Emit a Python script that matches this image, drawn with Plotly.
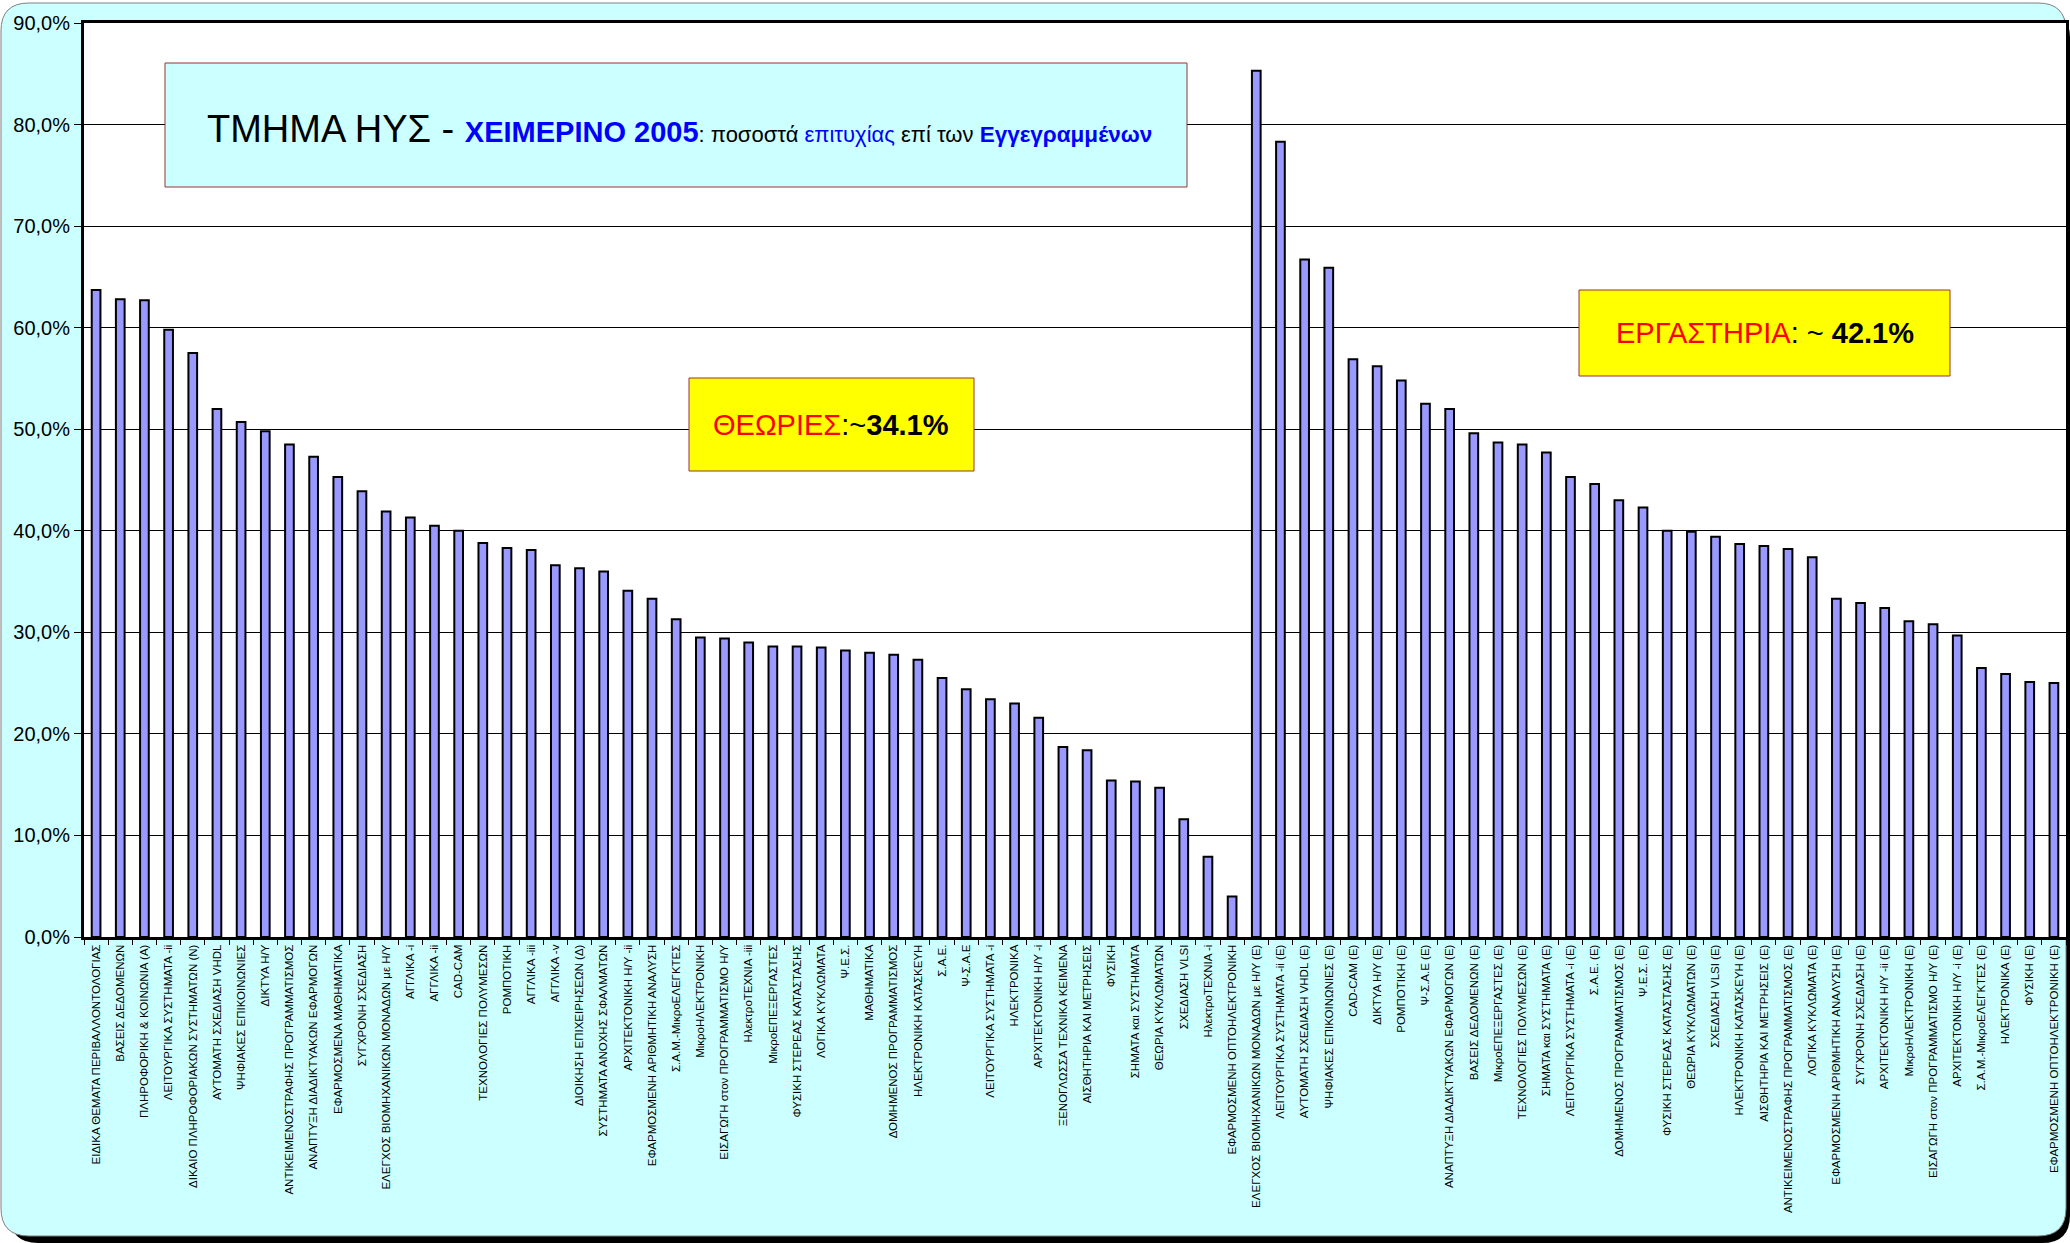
import plotly.graph_objects as go

# ---------------- data ----------------
theory_courses = [
    "ΕΙΔΙΚΑ ΘΕΜΑΤΑ ΠΕΡΙΒΑΛΛΟΝΤΟΛΟΓΙΑΣ", "ΒΑΣΕΙΣ ΔΕΔΟΜΕΝΩΝ", "ΠΛΗΡΟΦΟΡΙΚΗ & ΚΟΙΝΩΝΙΑ (Α)",
    "ΛΕΙΤΟΥΡΓΙΚΑ ΣΥΣΤΗΜΑΤΑ -ii", "ΔΙΚΑΙΟ ΠΛΗΡΟΦΟΡΙΑΚΩΝ ΣΥΣΤΗΜΑΤΩΝ (Ν)", "ΑΥΤΟΜΑΤΗ ΣΧΕΔΙΑΣΗ VHDL",
    "ΨΗΦΙΑΚΕΣ ΕΠΙΚΟΙΝΩΝΙΕΣ", "ΔΙΚΤΥΑ Η/Υ", "ΑΝΤΙΚΕΙΜΕΝΟΣΤΡΑΦΗΣ ΠΡΟΓΡΑΜΜΑΤΙΣΜΟΣ",
    "ΑΝΑΠΤΥΞΗ ΔΙΑΔΙΚΤΥΑΚΩΝ ΕΦΑΡΜΟΓΩΝ", "ΕΦΑΡΜΟΣΜΕΝΑ ΜΑΘΗΜΑΤΙΚΑ", "ΣΥΓΧΡΟΝΗ ΣΧΕΔΙΑΣΗ",
    "ΕΛΕΓΧΟΣ ΒΙΟΜΗΧΑΝΙΚΩΝ ΜΟΝΑΔΩΝ με Η/Υ", "ΑΓΓΛΙΚΑ -i", "ΑΓΓΛΙΚΑ -ii", "CAD-CAM",
    "ΤΕΧΝΟΛΟΓΙΕΣ ΠΟΛΥΜΕΣΩΝ", "ΡΟΜΠΟΤΙΚΗ", "ΑΓΓΛΙΚΑ -iii", "ΑΓΓΛΙΚΑ -v",
    "ΔΙΟΙΚΗΣΗ ΕΠΙΧΕΙΡΗΣΕΩΝ (Δ)", "ΣΥΣΤΗΜΑΤΑ ΑΝΟΧΗΣ ΣΦΑΛΜΑΤΩΝ", "ΑΡΧΙΤΕΚΤΟΝΙΚΗ Η/Υ -ii",
    "ΕΦΑΡΜΟΣΜΕΝΗ ΑΡΙΘΜΗΤΙΚΗ ΑΝΑΛΥΣΗ", "Σ.Α.Μ.-ΜικροΕΛΕΓΚΤΕΣ", "ΜικροΗΛΕΚΤΡΟΝΙΚΗ",
    "ΕΙΣΑΓΩΓΗ στον ΠΡΟΓΡΑΜΜΑΤΙΣΜΟ Η/Υ", "ΗλεκτροΤΕΧΝΙΑ -iii", "ΜικροΕΠΕΞΕΡΓΑΣΤΕΣ",
    "ΦΥΣΙΚΗ ΣΤΕΡΕΑΣ ΚΑΤΑΣΤΑΣΗΣ", "ΛΟΓΙΚΑ ΚΥΚΛΩΜΑΤΑ", "Ψ.Ε.Σ.", "ΜΑΘΗΜΑΤΙΚΑ",
    "ΔΟΜΗΜΕΝΟΣ ΠΡΟΓΡΑΜΜΑΤΙΣΜΟΣ", "ΗΛΕΚΤΡΟΝΙΚΗ ΚΑΤΑΣΚΕΥΗ", "Σ.Α.Ε.", "Ψ-Σ.Α.Ε",
    "ΛΕΙΤΟΥΡΓΙΚΑ ΣΥΣΤΗΜΑΤΑ -i", "ΗΛΕΚΤΡΟΝΙΚΑ", "ΑΡΧΙΤΕΚΤΟΝΙΚΗ Η/Υ -i",
    "ΞΕΝΟΓΛΩΣΣΑ ΤΕΧΝΙΚΑ ΚΕΙΜΕΝΑ", "ΑΙΣΘΗΤΗΡΙΑ ΚΑΙ ΜΕΤΡΗΣΕΙΣ", "ΦΥΣΙΚΗ",
    "ΣΗΜΑΤΑ και ΣΥΣΤΗΜΑΤΑ", "ΘΕΩΡΙΑ ΚΥΚΛΩΜΑΤΩΝ", "ΣΧΕΔΙΑΣΗ VLSI", "ΗλεκτροΤΕΧΝΙΑ -i",
    "ΕΦΑΡΜΟΣΜΕΝΗ ΟΠΤΟΗΛΕΚΤΡΟΝΙΚΗ",
]
theory_pass_pct = [
    63.7, 62.8, 62.7, 59.8, 57.5, 52.0, 50.7, 49.8, 48.5, 47.3, 45.3, 43.9,
    41.9, 41.3, 40.5, 40.0, 38.8, 38.3, 38.1, 36.6, 36.3, 36.0, 34.1, 33.3,
    31.3, 29.5, 29.4, 29.0, 28.6, 28.6, 28.5, 28.2, 28.0, 27.8, 27.3, 25.5,
    24.4, 23.4, 23.0, 21.6, 18.7, 18.4, 15.4, 15.3, 14.7, 11.6, 7.9, 4.0,
]

lab_courses = [
    "ΕΛΕΓΧΟΣ ΒΙΟΜΗΧΑΝΙΚΩΝ ΜΟΝΑΔΩΝ με Η/Υ (Ε)", "ΛΕΙΤΟΥΡΓΙΚΑ ΣΥΣΤΗΜΑΤΑ -ii (Ε)",
    "ΑΥΤΟΜΑΤΗ ΣΧΕΔΙΑΣΗ VHDL (Ε)", "ΨΗΦΙΑΚΕΣ ΕΠΙΚΟΙΝΩΝΙΕΣ (Ε)", "CAD-CAM (Ε)", "ΔΙΚΤΥΑ Η/Υ (Ε)",
    "ΡΟΜΠΟΤΙΚΗ (Ε)", "Ψ-Σ.Α.Ε (Ε)", "ΑΝΑΠΤΥΞΗ ΔΙΑΔΙΚΤΥΑΚΩΝ ΕΦΑΡΜΟΓΩΝ (Ε)",
    "ΒΑΣΕΙΣ ΔΕΔΟΜΕΝΩΝ (Ε)", "ΜικροΕΠΕΞΕΡΓΑΣΤΕΣ (Ε)", "ΤΕΧΝΟΛΟΓΙΕΣ ΠΟΛΥΜΕΣΩΝ (Ε)",
    "ΣΗΜΑΤΑ και ΣΥΣΤΗΜΑΤΑ (Ε)", "ΛΕΙΤΟΥΡΓΙΚΑ ΣΥΣΤΗΜΑΤΑ -i (Ε)", "Σ.Α.Ε. (Ε)",
    "ΔΟΜΗΜΕΝΟΣ ΠΡΟΓΡΑΜΜΑΤΙΣΜΟΣ (Ε)", "Ψ.Ε.Σ. (Ε)", "ΦΥΣΙΚΗ ΣΤΕΡΕΑΣ ΚΑΤΑΣΤΑΣΗΣ (Ε)",
    "ΘΕΩΡΙΑ ΚΥΚΛΩΜΑΤΩΝ (Ε)", "ΣΧΕΔΙΑΣΗ VLSI (Ε)", "ΗΛΕΚΤΡΟΝΙΚΗ ΚΑΤΑΣΚΕΥΗ (Ε)",
    "ΑΙΣΘΗΤΗΡΙΑ ΚΑΙ ΜΕΤΡΗΣΕΙΣ (Ε)", "ΑΝΤΙΚΕΙΜΕΝΟΣΤΡΑΦΗΣ ΠΡΟΓΡΑΜΜΑΤΙΣΜΟΣ (Ε)",
    "ΛΟΓΙΚΑ ΚΥΚΛΩΜΑΤΑ (Ε)", "ΕΦΑΡΜΟΣΜΕΝΗ ΑΡΙΘΜΗΤΙΚΗ ΑΝΑΛΥΣΗ (Ε)", "ΣΥΓΧΡΟΝΗ ΣΧΕΔΙΑΣΗ (Ε)",
    "ΑΡΧΙΤΕΚΤΟΝΙΚΗ Η/Υ -ii (Ε)", "ΜικροΗΛΕΚΤΡΟΝΙΚΗ (Ε)", "ΕΙΣΑΓΩΓΗ στον ΠΡΟΓΡΑΜΜΑΤΙΣΜΟ Η/Υ (Ε)",
    "ΑΡΧΙΤΕΚΤΟΝΙΚΗ Η/Υ -i (Ε)", "Σ.Α.Μ.-ΜικροΕΛΕΓΚΤΕΣ (Ε)", "ΗΛΕΚΤΡΟΝΙΚΑ (Ε)", "ΦΥΣΙΚΗ (Ε)",
    "ΕΦΑΡΜΟΣΜΕΝΗ ΟΠΤΟΗΛΕΚΤΡΟΝΙΚΗ (Ε)",
]
lab_pass_pct = [
    85.3, 78.3, 66.7, 65.9, 56.9, 56.2, 54.8, 52.5, 52.0, 49.6, 48.7, 48.5,
    47.7, 45.3, 44.6, 43.0, 42.3, 40.0, 39.9, 39.4, 38.7, 38.5, 38.2, 37.4,
    33.3, 32.9, 32.4, 31.1, 30.8, 29.7, 26.5, 25.9, 25.1, 25.0,
]

y_tick_values = [0, 10, 20, 30, 40, 50, 60, 70, 80, 90]
y_tick_labels = ["0,0%", "10,0%", "20,0%", "30,0%", "40,0%", "50,0%",
                 "60,0%", "70,0%", "80,0%", "90,0%"]

categories = theory_courses + lab_courses
values = theory_pass_pct + lab_pass_pct

# ---------------- layout geometry (pixels) ----------------
FW, FH = 2070, 1243
ML, MR, MT, MB = 84, 4, 23, 306
PW, PH = FW - ML - MR, FH - MT - MB


def px(x):
    return (x - ML) / PW


def py(y):
    return (FH - MB - y) / PH


def rounded_path(x0, y0, x1, y1, r):
    pts = [
        ("M", (x0 + r, y0)), ("L", (x1 - r, y0)), ("Q", (x1, y0), (x1, y0 + r)),
        ("L", (x1, y1 - r)), ("Q", (x1, y1), (x1 - r, y1)), ("L", (x0 + r, y1)),
        ("Q", (x0, y1), (x0, y1 - r)), ("L", (x0, y0 + r)), ("Q", (x0, y0), (x0 + r, y0)),
    ]
    s = ""
    for p in pts:
        cmd = p[0]
        coords = " ".join(f"{px(a):.5f},{py(b):.5f}" for a, b in p[1:])
        s += f"{cmd}{coords} "
    return s + "Z"


FONT = "Liberation Sans, Arial, sans-serif"

fig = go.Figure(
    go.Bar(
        x=categories,
        y=values,
        width=0.36,
        marker=dict(color="#9999FF", line=dict(color="black", width=2)),
        hovertemplate="%{x}: %{y:.1f}%<extra></extra>",
    )
)

shapes = [
    # shadow
    dict(type="path", xref="paper", yref="paper", layer="below",
         path=rounded_path(10, 10, FW, FH, 28), fillcolor="black", line=dict(width=0)),
    # chart area
    dict(type="path", xref="paper", yref="paper", layer="below",
         path=rounded_path(1, 3, FW - 4, FH - 7, 28), fillcolor="#CCFFFF",
         line=dict(color="#808080", width=1)),
    # plot area
    dict(type="rect", xref="paper", yref="paper", layer="below",
         x0=0, x1=1, y0=0, y1=1, fillcolor="white", line=dict(width=0)),
    # title box
    dict(type="rect", xref="paper", yref="paper", layer="above",
         x0=px(165), x1=px(1187), y0=py(187), y1=py(63),
         fillcolor="#CCFFFF", line=dict(color="#993333", width=1)),
    # theory box
    dict(type="rect", xref="paper", yref="paper", layer="above",
         x0=px(689), x1=px(974), y0=py(471), y1=py(378),
         fillcolor="#FFFF00", line=dict(color="#993333", width=1)),
    # lab box
    dict(type="rect", xref="paper", yref="paper", layer="above",
         x0=px(1579), x1=px(1950), y0=py(376), y1=py(290),
         fillcolor="#FFFF00", line=dict(color="#993333", width=1)),
]

title_text = (
    '<span style="font-size:38px">ΤΜΗΜΑ ΗΥΣ - </span>'
    '<span style="font-size:29px;color:#0000FF"><b>ΧΕΙΜΕΡΙΝΟ 2005</b></span>'
    '<span style="font-size:22px">: ποσοστά </span>'
    '<span style="font-size:22px;color:#0000FF">επιτυχίας</span>'
    '<span style="font-size:22px"> επί των </span>'
    '<span style="font-size:22.5px;color:#0000FF"><b>Εγγεγραμμένων</b></span>'
)

annotations = [
    dict(xref="paper", yref="paper", x=px(205), y=py(129), xanchor="left", yanchor="middle",
         text=title_text, showarrow=False, font=dict(family=FONT, size=22, color="black")),
    dict(xref="paper", yref="paper", x=px(831), y=py(425), xanchor="center", yanchor="middle",
         text='<span style="color:#FF0000">ΘΕΩΡΙΕΣ</span>:~<b>34.1%</b>',
         showarrow=False, font=dict(family=FONT, size=29, color="black")),
    dict(xref="paper", yref="paper", x=px(1765), y=py(333), xanchor="center", yanchor="middle",
         text='<span style="color:#FF0000">ΕΡΓΑΣΤΗΡΙΑ</span>: ~ <b>42.1%</b>',
         showarrow=False, font=dict(family=FONT, size=29, color="black")),
]

fig.update_layout(
    width=FW,
    height=FH,
    margin=dict(l=ML, r=MR, t=MT, b=MB, autoexpand=False),
    paper_bgcolor="white",
    plot_bgcolor="white",
    font=dict(family=FONT, color="black"),
    showlegend=False,
    shapes=shapes,
    annotations=annotations,
    xaxis=dict(
        type="category",
        tickangle=-90,
        tickfont=dict(family=FONT, size=11.5, color="black"),
        showline=True, linecolor="black", linewidth=3, mirror=True,
        ticks="outside", tickson="boundaries", ticklen=5, tickcolor="black", tickwidth=1,
        showgrid=False,
        automargin=False,
    ),
    yaxis=dict(
        range=[0, 90],
        tickmode="array",
        tickvals=y_tick_values,
        ticktext=y_tick_labels,
        tickfont=dict(family=FONT, size=20, color="black"),
        showline=True, linecolor="black", linewidth=3, mirror=True,
        ticks="outside", ticklen=7, tickcolor="black", tickwidth=1,
        showgrid=True, gridcolor="black", gridwidth=1,
        zeroline=False,
        automargin=False,
    ),
)

fig.write_html("out.html", config={"displayModeBar": False},
               post_script="document.body.style.margin='0px';")
